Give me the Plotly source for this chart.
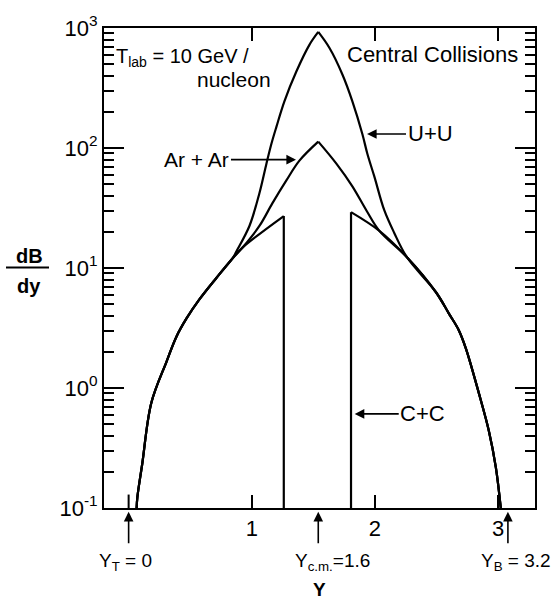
import plotly.graph_objects as go

# ---------------- data ----------------
# common low-rapidity tail shared by all systems
tail_left_y = [0.065, 0.071, 0.111, 0.184, 0.308, 0.389, 0.470, 0.576, 0.714, 0.843]
tail_left_v = [0.100, 0.123, 0.235, 0.75, 1.66, 2.69, 3.80, 5.50, 8.30, 12.0]

# common high-rapidity tail shared by all systems
tail_right_y = [2.260, 2.496, 2.601, 2.682, 2.739, 2.844, 2.925, 2.982, 3.022]
tail_right_v = [12.3, 6.28, 4.17, 3.02, 2.13, 0.906, 0.441, 0.218, 0.100]

# U+U central part (peak at index 9)
uu_y = [0.876, 0.981, 1.062, 1.119, 1.159, 1.200, 1.265, 1.362, 1.468, 1.540,
        1.630, 1.736, 1.817, 1.898, 1.938, 1.995, 2.076, 2.157]
uu_v = [13.8, 22.4, 42.0, 74.0, 108, 150, 245, 434, 724, 927,
        684, 410, 245, 131, 90, 58, 30.3, 19.6]
UU_PEAK = 9

# Ar+Ar / C+C shared points
arc_left_y, arc_left_v = [0.925], [14.8]
arc_right_y, arc_right_v = [2.036], [20.4]

# Ar+Ar central part (peak at index 4)
ar_y = [1.062, 1.168, 1.281, 1.387, 1.540, 1.687, 1.817, 1.930]
ar_v = [22.4, 34.7, 53.7, 78.5, 113, 74.1, 47.9, 30.3]
AR_PEAK = 4

# C+C: left edge and right edge of the central gap
cc_left_y, cc_left_v = [1.260, 1.260], [27.1, 0.1]
cc_right_y, cc_right_v = [1.806, 1.806], [0.1, 29.2]

FONT = "Liberation Sans, Arial, sans-serif"

line_s = dict(color="black", width=2.2, shape="spline", smoothing=1.0)
line_l = dict(color="black", width=2.2)

segments = [
    # U+U
    (tail_left_y + uu_y[:UU_PEAK + 1], tail_left_v + uu_v[:UU_PEAK + 1], line_s),
    (uu_y[UU_PEAK:] + tail_right_y, uu_v[UU_PEAK:] + tail_right_v, line_s),
    # Ar+Ar
    (tail_left_y + arc_left_y + ar_y[:AR_PEAK + 1], tail_left_v + arc_left_v + ar_v[:AR_PEAK + 1], line_s),
    (ar_y[AR_PEAK:] + arc_right_y + tail_right_y, ar_v[AR_PEAK:] + arc_right_v + tail_right_v, line_s),
    # C+C
    (tail_left_y + arc_left_y + cc_left_y[:1], tail_left_v + arc_left_v + cc_left_v[:1], line_s),
    (cc_left_y, cc_left_v, line_l),
    (cc_right_y, cc_right_v, line_l),
    (cc_right_y[1:] + arc_right_y + tail_right_y, cc_right_v[1:] + arc_right_v + tail_right_v, line_s),
]

fig = go.Figure()
for xs, vs, ln in segments:
    fig.add_trace(go.Scatter(x=xs, y=vs, mode="lines", line=ln, hoverinfo="skip"))

major = [0.1, 1, 10, 100, 1000]
major_text = ["10<sup>-1</sup>", "10<sup>0</sup>", "10<sup>1</sup>", "10<sup>2</sup>", "10<sup>3</sup>"]
minor = [m * 10.0 ** e for e in range(-1, 3) for m in range(2, 10)]

fig.update_layout(
    width=555, height=599,
    margin=dict(l=104, r=20, t=23, b=91),
    paper_bgcolor="white", plot_bgcolor="white",
    showlegend=False,
    font=dict(family=FONT, color="black", size=20),
    xaxis=dict(range=[-0.2, 3.3], tickvals=[1, 2, 3], ticktext=["1", "2", "3"],
               ticks="inside", ticklen=13, tickwidth=2, tickcolor="black",
               showline=True, linewidth=2, linecolor="black", mirror="ticks",
               showgrid=False, zeroline=False, tickfont=dict(size=22)),
    yaxis=dict(type="log", range=[-1, 3], tickvals=major, ticktext=major_text,
               ticks="inside", ticklen=20, tickwidth=2, tickcolor="black",
               showline=True, linewidth=2, linecolor="black", mirror="ticks",
               showgrid=False, zeroline=False, tickfont=dict(size=22),
               minor=dict(tickvals=minor, ticks="inside", ticklen=10,
                          tickwidth=1.5, tickcolor="black", showgrid=False)),
)


def px(x):
    return (x - 104) / 431


def py(y):
    return (508 - y) / 485


def label(text, x, y, size):
    fig.add_annotation(text=text, xref="paper", yref="paper", x=px(x), y=py(y),
                       xanchor="center", yanchor="middle", showarrow=False,
                       font=dict(size=size))


# tick at Y=0 on the bottom axis only
fig.add_shape(type="line", xref="x", yref="paper", x0=0, x1=0, y0=0, y1=0.028,
              line=dict(color="black", width=2))

# dB/dy axis title (fraction)
label("<b>dB</b>", 29, 253, 20)
label("<b>dy</b>", 29, 284, 20)
fig.add_shape(type="line", xref="paper", yref="paper", x0=px(6), x1=px(49),
              y0=py(265), y1=py(265), line=dict(color="black", width=2))

# x title
label("<b>Y</b>", 319, 590, 19)

# in-plot text
fig.add_annotation(text="T<sub>lab</sub> = 10 GeV /", xref="paper", yref="paper",
                   x=px(114), y=py(53), xanchor="left", yanchor="middle",
                   showarrow=False, font=dict(size=20))
label("nucleon", 234, 75, 21)
label("Central Collisions", 432, 50, 22)

arrow = dict(showarrow=True, arrowhead=2, arrowsize=1.2, arrowwidth=1.6, arrowcolor="black")
# curve labels with arrows (y in log10 units for log axis)
fig.add_annotation(text="U+U", x=1.936, y=2.117, ax=63, ay=0, font=dict(size=22), **arrow)
fig.add_annotation(text="Ar + Ar", x=1.359, y=1.903, ax=-99, ay=0, font=dict(size=21), **arrow)
fig.add_annotation(text="C+C", x=1.836, y=-0.216, ax=68, ay=0, font=dict(size=22), **arrow)

# rapidity markers below axis
for xv in [0.0, 1.54, 3.08]:
    fig.add_annotation(text="", x=xv, xref="x", yref="paper", y=-0.008, ax=0, ay=33, **arrow)
label("Y<sub>T</sub> = 0", 125, 563, 19)
label("Y<sub>c.m.</sub>=1.6", 332, 563, 19)
label("Y<sub>B</sub> = 3.2", 516, 563, 19)

fig.write_html("out.html")
